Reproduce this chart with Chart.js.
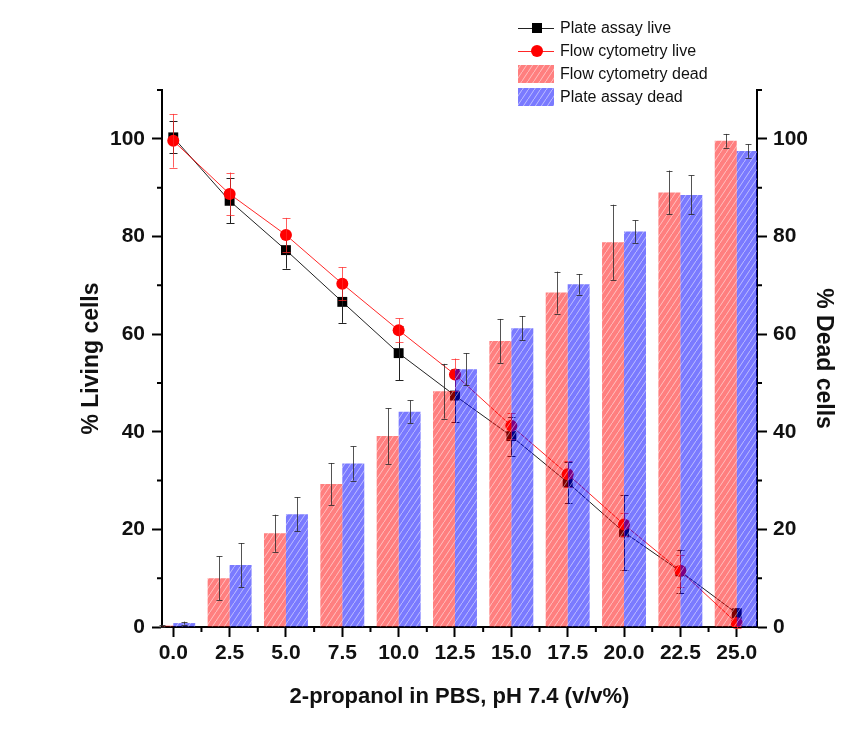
<!DOCTYPE html>
<html>
<head>
<meta charset="utf-8">
<script src="https://cdn.jsdelivr.net/npm/chart.js@4.4.1/dist/chart.umd.min.js"></script>
<style>
  html, body { margin: 0; padding: 0; background: #fff; }
  #wrap { width: 861px; height: 742px; position: relative; }
</style>
</head>
<body>
<div id="wrap"><canvas id="chart"></canvas></div>
<script>
// 2-propanol concentration (v/v%)
const concentrations = [0, 2.5, 5, 7.5, 10, 12.5, 15, 17.5, 20, 22.5, 25]
const xTickLabels = ['0.0', '2.5', '5.0', '7.5', '10.0', '12.5', '15.0', '17.5', '20.0', '22.5', '25.0']
const xMinorTicks = [1.25, 3.75, 6.25, 8.75, 11.25, 13.75, 16.25, 18.75, 21.25, 23.75]
const yTicks = [0, 20, 40, 60, 80, 100]
const yMinorTicks = [10, 30, 50, 70, 90, 110]

// % living cells
const plateLive = [100.3, 87.3, 77.2, 66.6, 56.1, 47.4, 39.1, 29.6, 19.4, 11.4, 2.8]
const plateLiveErr = [3.3, 4.6, 3.8, 4.3, 5.6, 5.5, 4.0, 4.2, 7.7, 4.4, 1.0]
const flowLive = [99.6, 88.7, 80.3, 70.3, 60.8, 51.7, 41.2, 31.3, 21.0, 11.5, 0.8]
const flowLiveErr = [5.5, 4.4, 3.5, 3.4, 2.4, 3.3, 2.6, 2.7, 2.4, 3.3, 1.0]

// % dead cells
const flowDead = [0.3, 10.0, 19.2, 29.3, 39.1, 48.3, 58.6, 68.5, 78.8, 89.0, 99.6]
const flowDeadErr = [0.2, 4.5, 3.8, 4.3, 5.7, 5.6, 4.5, 4.3, 7.7, 4.5, 1.4]
const plateDead = [0.8, 12.7, 23.1, 33.5, 44.1, 52.8, 61.2, 70.2, 81.0, 88.5, 97.5]
const plateDeadErr = [0.3, 4.5, 3.5, 3.5, 2.3, 3.3, 2.5, 2.1, 2.3, 4.0, 1.4]

const FONT = '"Liberation Sans", Arial, sans-serif'
Chart.defaults.font.family = FONT
Chart.defaults.color = '#111'

// diagonal hatch fill, semi transparent
function hatch(fill) {
	const c = document.createElement('canvas')
	c.width = 6
	c.height = 9
	const g = c.getContext('2d')
	g.fillStyle = fill
	g.fillRect(0, 0, 6, 9)
	g.strokeStyle = 'rgba(255,255,255,0.5)'
	g.lineWidth = 1
	g.beginPath()
	g.moveTo(-1, 10.5)
	g.lineTo(7, -1.5)
	g.stroke()
	return g.createPattern(c, 'repeat')
}

const xy = (ys) => ys.map((y, i) => ({ x: concentrations[i], y }))

const redHatch = hatch('rgba(255,0,0,0.5)')
const blueHatch = hatch('rgba(0,0,255,0.52)')

const errorBars = {
	id: 'errorBars',
	afterDatasetDraw(chart, args) {
		const ds = chart.data.datasets[args.index]
		if (!ds.errors) return
		const { meta } = args
		const yScale = chart.scales[meta.yAxisID]
		const { ctx } = chart
		ctx.save()
		ctx.strokeStyle = ds.errorColor
		ctx.lineWidth = 1
		meta.data.forEach((el, i) => {
			const v = ds.data[i].y
			const e = ds.errors[i]
			const top = yScale.getPixelForValue(v + e)
			const bot = yScale.getPixelForValue(v - e)
			const x = Math.round(el.x) + 0.5
			const w = ds.capWidth
			ctx.beginPath()
			ctx.moveTo(x, top)
			ctx.lineTo(x, bot)
			ctx.moveTo(x - w, Math.round(top) + 0.5)
			ctx.lineTo(x + w, Math.round(top) + 0.5)
			ctx.moveTo(x - w, Math.round(bot) + 0.5)
			ctx.lineTo(x + w, Math.round(bot) + 0.5)
			ctx.stroke()
		})
		ctx.restore()
	},
}

const minorTicks = {
	id: 'minorTicks',
	afterDraw(chart) {
		const { ctx, scales } = chart
		const { x, y, y1 } = scales
		ctx.save()
		ctx.strokeStyle = '#000'
		ctx.lineWidth = 2
		ctx.beginPath()
		xMinorTicks.forEach((v) => {
			const px = x.getPixelForValue(v)
			ctx.moveTo(px, x.top)
			ctx.lineTo(px, x.top + 5)
		})
		yMinorTicks.forEach((v) => {
			const py = y.getPixelForValue(v)
			ctx.moveTo(y.right, py)
			ctx.lineTo(y.right - 5, py)
			const py1 = y1.getPixelForValue(v)
			ctx.moveTo(y1.left, py1)
			ctx.lineTo(y1.left + 5, py1)
		})
		ctx.stroke()
		ctx.restore()
	},
}

// legend drawn top right, in the style of the original figure
const figureLegend = {
	id: 'figureLegend',
	afterDraw(chart) {
		const { ctx } = chart
		const sets = chart.data.datasets
		const rows = [sets[0], sets[1], sets[2], sets[3]]
		const x0 = 518
		const x1 = 554
		const textX = 560
		const rowY = [28, 51, 74, 97]
		ctx.save()
		ctx.font = `16px ${FONT}`
		ctx.textBaseline = 'middle'
		ctx.fillStyle = '#111'
		rows.forEach((ds, i) => {
			const cy = rowY[i]
			if (ds.type === 'line') {
				ctx.strokeStyle = ds.borderColor
				ctx.lineWidth = 1
				ctx.beginPath()
				ctx.moveTo(x0, cy + 0.5)
				ctx.lineTo(x1, cy + 0.5)
				ctx.stroke()
				ctx.fillStyle = ds.pointBackgroundColor
				ctx.beginPath()
				if (ds.pointStyle === 'rect') ctx.rect(532, cy - 5, 10, 10)
				else ctx.arc(537, cy, 6, 0, Math.PI * 2)
				ctx.fill()
			} else {
				ctx.fillStyle = ds.backgroundColor
				ctx.fillRect(x0, cy - 9, x1 - x0, 18)
			}
			ctx.fillStyle = '#111'
			ctx.fillText(ds.label, textX, cy + 1)
		})
		ctx.restore()
	},
}

const axisGrid = {
	display: true,
	drawOnChartArea: false,
	drawTicks: true,
	tickLength: 10,
	tickWidth: 2,
	tickColor: '#000',
	offset: false,
}
const axisBorder = { display: true, color: '#000', width: 2 }
const tickFont = { size: 21, weight: 'bold' }

new Chart(document.getElementById('chart'), {
	type: 'bar',
	data: {
		datasets: [
			{
				type: 'line',
				label: 'Plate assay live',
				data: xy(plateLive),
				yAxisID: 'y',
				borderColor: '#222',
				borderWidth: 1,
				pointStyle: 'rect',
				pointRadius: 7,
				pointBorderWidth: 0,
				pointBackgroundColor: '#000',
				errors: plateLiveErr,
				errorColor: '#222',
				capWidth: 4,
				order: 2,
			},
			{
				type: 'line',
				label: 'Flow cytometry live',
				data: xy(flowLive),
				yAxisID: 'y',
				borderColor: 'rgba(255,0,0,0.85)',
				borderWidth: 1,
				pointStyle: 'circle',
				pointRadius: 6,
				pointBorderWidth: 0,
				pointBackgroundColor: '#ff0000',
				errors: flowLiveErr,
				errorColor: 'rgba(255,40,40,0.75)',
				capWidth: 4,
				order: 1,
			},
			{
				type: 'bar',
				label: 'Flow cytometry dead',
				data: xy(flowDead),
				yAxisID: 'y1',
				backgroundColor: redHatch,
				borderWidth: 0,
				categoryPercentage: 0.78,
				barPercentage: 1,
				errors: flowDeadErr,
				errorColor: 'rgba(40,40,40,0.8)',
				capWidth: 3,
				order: 0,
			},
			{
				type: 'bar',
				label: 'Plate assay dead',
				data: xy(plateDead),
				yAxisID: 'y1',
				backgroundColor: blueHatch,
				borderWidth: 0,
				categoryPercentage: 0.78,
				barPercentage: 1,
				errors: plateDeadErr,
				errorColor: 'rgba(40,40,40,0.8)',
				capWidth: 3,
				order: 0,
			},
		],
	},
	options: {
		responsive: true,
		maintainAspectRatio: false,
		animation: false,
		events: [],
		layout: { padding: { top: 90, left: 0, right: 0, bottom: 0 } },
		plugins: {
			legend: { display: false },
			tooltip: { enabled: false },
		},
		scales: {
			x: {
				type: 'linear',
				min: -0.5,
				max: 25.9,
				offset: false,
				grid: axisGrid,
				border: axisBorder,
				afterBuildTicks: (s) => { s.ticks = concentrations.map((value) => ({ value })) },
				afterFit: (s) => { s.height = 115 },
				ticks: {
					autoSkip: false,
					maxRotation: 0,
					padding: 4,
					font: tickFont,
					color: '#111',
					callback: (v, i) => xTickLabels[i],
				},
				title: {
					display: true,
					text: '2-propanol in PBS, pH 7.4 (v/v%)',
					font: { size: 22, weight: 'bold' },
					color: '#111',
					padding: { top: 0, bottom: 32 },
				},
			},
			y: {
				position: 'left',
				min: 0,
				max: 110,
				grid: axisGrid,
				border: axisBorder,
				afterBuildTicks: (s) => { s.ticks = yTicks.map((value) => ({ value })) },
				afterFit: (s) => { s.width = 162 },
				ticks: { padding: 7, font: tickFont, color: '#111' },
				title: {
					display: true,
					text: '% Living cells',
					font: { size: 23, weight: 'bold' },
					color: '#111',
					padding: { top: 78, bottom: 0 },
				},
			},
			y1: {
				position: 'right',
				min: 0,
				max: 110,
				grid: axisGrid,
				border: axisBorder,
				afterBuildTicks: (s) => { s.ticks = yTicks.map((value) => ({ value })) },
				afterFit: (s) => { s.width = 104 },
				ticks: { padding: 6, font: tickFont, color: '#111' },
				title: {
					display: true,
					text: '% Dead cells',
					font: { size: 23, weight: 'bold' },
					color: '#111',
					padding: { top: 24, bottom: 0 },
				},
			},
		},
	},
	plugins: [errorBars, minorTicks, figureLegend],
})
</script>
</body>
</html>
